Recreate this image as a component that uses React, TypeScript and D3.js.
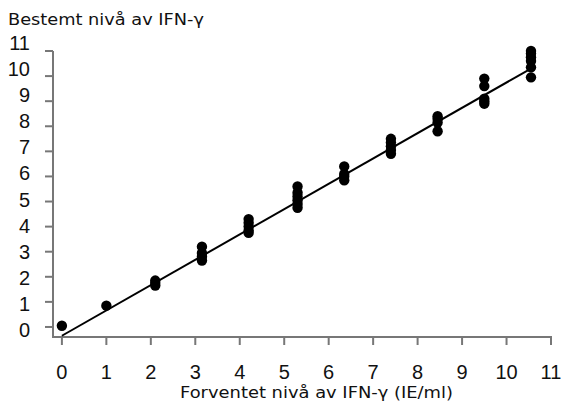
import React from 'react';
import * as d3 from 'd3';

const expected = [0, 1.0, 2.1, 3.15, 4.2, 5.3, 6.35, 7.4, 8.45, 9.5, 10.55];
const measured = [
  [0.05],
  [0.85],
  [1.65, 1.75, 1.85],
  [2.65, 2.8, 2.95, 3.2],
  [3.75, 3.85, 4.0, 4.15, 4.3],
  [4.75, 4.9, 5.05, 5.2, 5.35, 5.6],
  [5.85, 6.0, 6.1, 6.4],
  [6.9, 7.05, 7.2, 7.35, 7.5],
  [7.8, 8.15, 8.3, 8.4],
  [8.9, 9.0, 9.1, 9.6, 9.9],
  [9.95, 10.35, 10.6, 10.75, 10.9, 11.0],
];
const fitLine = [
  [0, -0.35],
  [10.57, 10.32],
];
const ticks = [0, 1, 2, 3, 4, 5, 6, 7, 8, 9, 10, 11];
const yTitle = 'Bestemt nivå av IFN-γ';
const xTitle = 'Forventet nivå av IFN-γ (IE/ml)';

const W = 561;
const H = 412;

export default function App() {
  const x = d3.scaleLinear().domain([-0.2, 11]).range([53, 551]);
  const y = d3.scaleLinear().domain([-0.4, 11]).range([337, 51]);
  // the y labels sit on a slightly wider spacing than the ticks in the original
  const yLab = d3.scaleLinear().domain([0, 11]).range([337, 50]);

  const points = expected.flatMap((ex, i) => measured[i].map((m) => ({ ex, m })));
  const line = d3
    .line<number[]>()
    .x((d) => x(d[0]))
    .y((d) => y(d[1]));

  const axisColor = '#777';

  return (
    <svg
      width={W}
      height={H}
      style={{ position: 'absolute', left: 0, top: 0, background: '#fff' }}
    >
      <text
        x={8}
        y={25}
        fontFamily="DejaVu Sans"
        fontSize={16.5}
        textLength={196}
        lengthAdjust="spacingAndGlyphs"
        fill="#111"
      >
        {yTitle}
      </text>

      {/* axes */}
      <line x1={x(-0.2)} x2={x(-0.2)} y1={y(11)} y2={y(-0.4)} stroke={axisColor} strokeWidth={2} />
      <line x1={x(-0.2) - 1} x2={x(11) + 1} y1={y(-0.4)} y2={y(-0.4)} stroke={axisColor} strokeWidth={2} />

      {ticks.map((t) => (
        <g key={'y' + t}>
          <line x1={x(-0.2) - 8} x2={x(-0.2)} y1={y(t)} y2={y(t)} stroke={axisColor} strokeWidth={2} />
          <text
            x={30}
            y={yLab(t)}
            textAnchor="end"
            fontFamily="Liberation Sans"
            fontSize={20}
            fill="#111"
          >
            {t}
          </text>
        </g>
      ))}
      {ticks.map((t) => (
        <g key={'x' + t}>
          <line x1={x(t)} x2={x(t)} y1={y(-0.4)} y2={y(-0.4) + 8} stroke={axisColor} strokeWidth={2} />
          <text
            x={x(t)}
            y={379}
            textAnchor="middle"
            fontFamily="Liberation Sans"
            fontSize={20}
            fill="#111"
          >
            {t}
          </text>
        </g>
      ))}

      <text
        x={180}
        y={398}
        fontFamily="DejaVu Sans"
        fontSize={16.5}
        textLength={273}
        lengthAdjust="spacingAndGlyphs"
        fill="#111"
      >
        {xTitle}
      </text>

      <path d={line(fitLine) || ''} fill="none" stroke="#000" strokeWidth={2} />

      {points.map((p, i) => (
        <circle key={i} cx={x(p.ex)} cy={y(p.m)} r={5.2} fill="#000" />
      ))}
    </svg>
  );
}
